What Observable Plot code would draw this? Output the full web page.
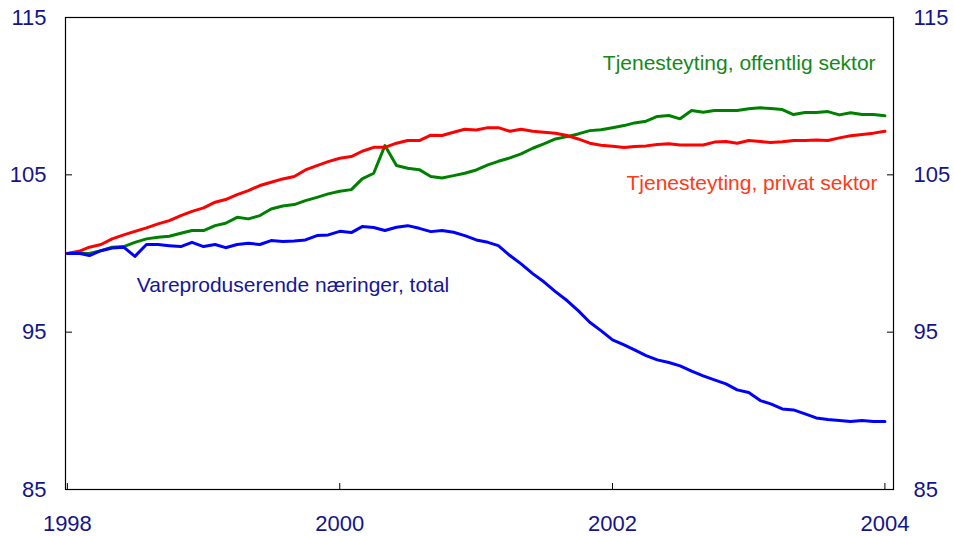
<!DOCTYPE html>
<html>
<head>
<meta charset="utf-8">
<script src="https://cdn.jsdelivr.net/npm/d3@7"></script>
<script src="https://cdn.jsdelivr.net/npm/@observablehq/plot@0.6"></script>
<style>
  html, body { margin: 0; padding: 0; background: #fff; }
  #chart svg { display: block; }
</style>
</head>
<body>
<div id="chart"></div>
<script>
// Monthly index, Jan 1998 = 100, Jan 1998 – Jan 2004 (73 months)
const startMonth = "1998-01";
const endMonth = "2004-01";

const privat = [
  100.0, 100.14, 100.4, 100.57, 100.93, 101.18, 101.41, 101.63, 101.88, 102.09,
  102.41, 102.68, 102.9, 103.26, 103.43, 103.74, 104.0, 104.32, 104.53, 104.74,
  104.89, 105.31, 105.59, 105.84, 106.05, 106.16, 106.5, 106.75, 106.75, 107.01,
  107.18, 107.18, 107.52, 107.5, 107.71, 107.9, 107.85, 108.0, 108.0, 107.77,
  107.9, 107.77, 107.71, 107.64, 107.5, 107.28, 107.01, 106.88, 106.82, 106.74,
  106.8, 106.84, 106.93, 106.97, 106.9, 106.9, 106.9, 107.08, 107.12, 107.01,
  107.18, 107.12, 107.05, 107.1, 107.18, 107.18, 107.22, 107.18, 107.35, 107.48,
  107.56, 107.65, 107.77
];
const offentlig = [
  100.0, 100.02, 100.0, 100.18, 100.4, 100.44, 100.71, 100.93, 101.03, 101.1,
  101.29, 101.46, 101.46, 101.77, 101.92, 102.3, 102.2, 102.41, 102.83, 103.02,
  103.11, 103.36, 103.57, 103.79, 103.96, 104.06, 104.74, 105.1, 106.86, 105.59,
  105.42, 105.33, 104.89, 104.8, 104.95, 105.1, 105.31, 105.63, 105.86, 106.08,
  106.33, 106.69, 106.97, 107.28, 107.43, 107.6, 107.81, 107.86, 107.99, 108.13,
  108.3, 108.41, 108.71, 108.77, 108.56, 109.09, 108.98, 109.09, 109.09, 109.09,
  109.2, 109.26, 109.22, 109.15, 108.83, 108.96, 108.96, 109.02, 108.81, 108.94,
  108.83, 108.83, 108.75
];
const vare = [
  100.0, 100.02, 99.87, 100.18, 100.35, 100.4, 99.82, 100.57, 100.57, 100.5,
  100.44, 100.71, 100.44, 100.57, 100.37, 100.57, 100.65, 100.57, 100.82, 100.76,
  100.8, 100.86, 101.14, 101.18, 101.41, 101.33, 101.71, 101.65, 101.46, 101.67,
  101.77, 101.6, 101.39, 101.46, 101.35, 101.14, 100.86, 100.71, 100.5, 99.87,
  99.34, 98.72, 98.2, 97.58, 97.01, 96.37, 95.63, 95.1, 94.51, 94.19,
  93.87, 93.51, 93.24, 93.07, 92.86, 92.52, 92.22, 91.97, 91.71, 91.33,
  91.16, 90.65, 90.44, 90.12, 90.06, 89.81, 89.55, 89.45, 89.38, 89.32,
  89.38, 89.32, 89.32
];

const seriesNames = ["Tjenesteyting, offentlig sektor", "Tjenesteyting, privat sektor", "Vareproduserende næringer, total"];
const seriesColors = ["#008000", "#ff0000", "#0000ff"];
const labelColors = ["#13891a", "#ff3a17", "#16169a"];

const yTicks = [85, 95, 105, 115];
const xTickYears = ["1998", "2000", "2002", "2004"];

// Label anchors (date, value) for the direct series labels
const labelDates = ["2003-12-07", "2003-12-12", "1998-07-06"];
const labelValues = [112.06, 104.49, 98.0];
const labelAnchors = ["end", "end", "start"];

// ---- build tables ----
const parse = d3.utcParse("%Y-%m");
const months = d3.utcMonth.range(parse(startMonth), d3.utcMonth.offset(parse(endMonth), 1));
const valuesBySeries = [offentlig, privat, vare];
const rows = [];
valuesBySeries.forEach((vals, s) => {
  vals.forEach((v, i) => rows.push({date: months[i], value: v, series: seriesNames[s]}));
});
const labels = seriesNames.map((name, i) => ({
  name, date: d3.utcParse("%Y-%m-%d")(labelDates[i]), value: labelValues[i], anchor: labelAnchors[i], color: labelColors[i]
}));
const xTicks = xTickYears.map(y => d3.utcParse("%Y")(y));
const navy = "#14148c";

const labelMarks = labels.map(l =>
  Plot.text([l], {x: "date", y: "value", text: "name", textAnchor: l.anchor, fill: l.color, fontSize: 21})
);

const chart = Plot.plot({
  width: 954,
  height: 536,
  marginLeft: 65,
  marginRight: 61,
  marginTop: 17,
  marginBottom: 47,
  style: {fontFamily: "'Liberation Sans', Arial, sans-serif", background: "#fff", overflow: "visible"},
  x: {type: "utc", domain: [new Date(Date.UTC(1997, 11, 27)), new Date(Date.UTC(2004, 0, 24))], label: null},
  y: {domain: [85, 115], label: null},
  color: {domain: seriesNames, range: seriesColors},
  marks: [
    // inward tick marks
    Plot.axisY({anchor: "left", ticks: yTicks, tickSize: 7, dx: 7, tickFormat: () => "", stroke: "#000"}),
    Plot.axisY({anchor: "right", ticks: yTicks, tickSize: 7, dx: -7, tickFormat: () => "", stroke: "#000"}),
    Plot.axisX({anchor: "bottom", ticks: xTicks, tickSize: 6, dy: -6, tickFormat: () => "", stroke: "#000"}),
    // tick labels
    Plot.axisY({anchor: "left", ticks: yTicks, tickSize: 0, tickPadding: 19, fontSize: 22, color: navy, label: null}),
    Plot.axisY({anchor: "right", ticks: yTicks, tickSize: 0, tickPadding: 20, fontSize: 22, color: navy, label: null}),
    Plot.axisX({anchor: "bottom", ticks: xTicks, tickSize: 0, tickPadding: 26, fontSize: 22, color: navy, label: null, tickFormat: d3.utcFormat("%Y")}),
    // series
    Plot.lineY(rows, {x: "date", y: "value", z: "series", stroke: "series", strokeWidth: 3, strokeLinejoin: "round"}),
    // direct labels
    ...labelMarks,
    Plot.frame({stroke: "#000", strokeWidth: 1.2})
  ]
});
document.getElementById("chart").appendChild(chart);
</script>
</body>
</html>
